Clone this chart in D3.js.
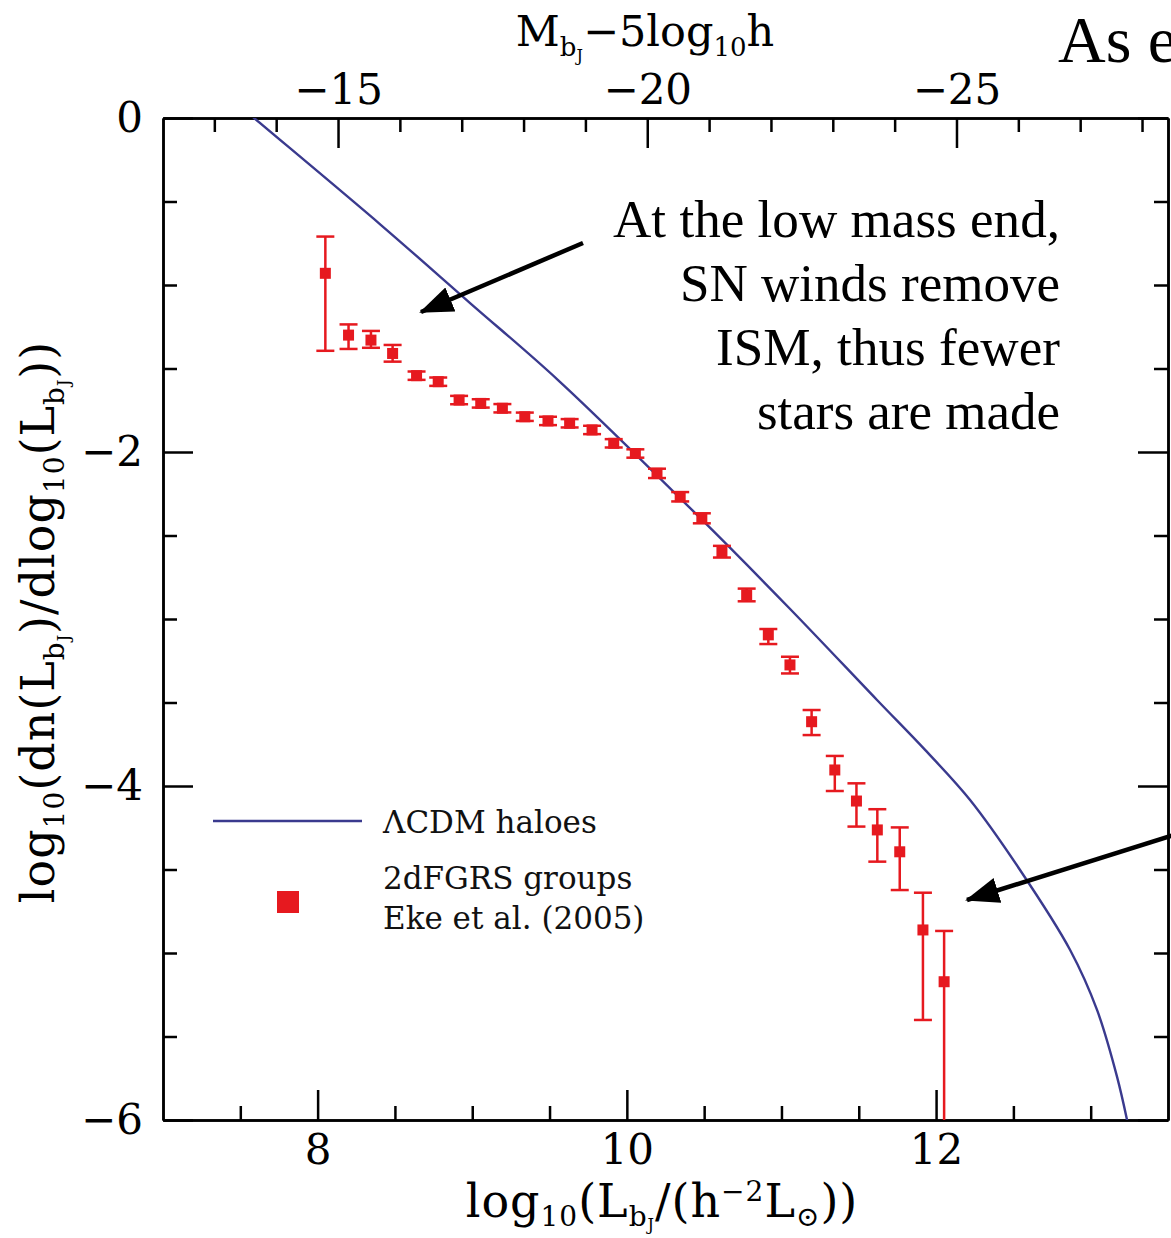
<!DOCTYPE html>
<html>
<head>
<meta charset="utf-8">
<script src="https://cdn.jsdelivr.net/npm/d3@7"></script>
<style>
  body { margin: 0; background: #fff; }
  svg { display: block; }
  .axis path, .axis line { stroke: #000; stroke-width: 2.5; }
  .axis text { font-family: "DejaVu Serif", serif; font-size: 42px; fill: #000; }
  .title { font-family: "DejaVu Serif", serif; font-size: 46px; fill: #000; letter-spacing: 1px; }
  .legend { font-family: "DejaVu Serif", serif; font-size: 31px; fill: #111; }
  .note { font-family: "Liberation Serif", "Times New Roman", serif; font-size: 53px; fill: #000; }
</style>
</head>
<body>
<svg class="lf" width="1171" height="1238"></svg>
<script>
// 2dFGRS groups (Eke et al. 2005): log10 L, log10 phi, upper / lower error
const groupLogL = [8.05, 8.20, 8.345, 8.485, 8.64, 8.78, 8.915, 9.055, 9.195, 9.34, 9.49, 9.63,
                   9.775, 9.915, 10.055, 10.195, 10.345, 10.485, 10.615, 10.775, 10.915, 11.055,
                   11.195, 11.345, 11.485, 11.62, 11.765, 11.915, 12.052];
const groupPhi = [-0.93, -1.30, -1.33, -1.41, -1.543, -1.579, -1.689, -1.709, -1.738, -1.789, -1.814, -1.828,
                  -1.868, -1.948, -2.009, -2.128, -2.268, -2.397, -2.597, -2.856, -3.095, -3.275,
                  -3.615, -3.904, -4.09, -4.263, -4.394, -4.862, -5.172];
const groupHi = [-0.71, -1.236, -1.275, -1.359, -1.518, -1.554, -1.664, -1.684, -1.713, -1.764, -1.789, -1.803,
                 -1.843, -1.923, -1.984, -2.10, -2.24, -2.367, -2.562, -2.818, -3.06, -3.226,
                 -3.545, -3.82, -3.984, -4.139, -4.248, -4.639, -4.868];
const groupLo = [-1.394, -1.383, -1.376, -1.459, -1.568, -1.604, -1.714, -1.734, -1.763, -1.814, -1.839, -1.853,
                 -1.893, -1.973, -2.034, -2.156, -2.296, -2.427, -2.632, -2.894, -3.15, -3.326,
                 -3.695, -4.03, -4.243, -4.453, -4.623, -5.401, -7.0];

// LCDM haloes curve
const haloLogL = [7.498, 7.589, 8.41, 8.986, 9.555, 10.474, 11.056, 11.618, 11.929, 12.22, 12.543,
                  12.867, 13.041, 13.171, 13.242];
const haloPhi = [0.072, 0.0, -0.641, -1.108, -1.569, -2.395, -2.94, -3.485, -3.784, -4.084, -4.503,
                 -4.982, -5.341, -5.743, -6.03];

const xMajor = [8, 10, 12];
const yMajor = [0, -2, -4, -6];
const magMajor = [-15, -20, -25];
const magSun = 5.33;

const svg = d3.select("svg.lf");
const margin = {top: 118, right: 3, bottom: 118, left: 163};
const width = +svg.attr("width") - margin.left - margin.right;
const height = +svg.attr("height") - margin.top - margin.bottom;

svg.append("rect").attr("width", 1171).attr("height", 1238).attr("fill", "#fff");

const x = d3.scaleLinear().domain([7, 13.5]).range([0, width]);
const y = d3.scaleLinear().domain([-6, 0]).range([height, 0]);
const mag = d3.scaleLinear().domain([magSun - 2.5 * 7, magSun - 2.5 * 13.5]).range([0, width]);

const g = svg.append("g").attr("transform", `translate(${margin.left}, ${margin.top})`);

g.append("defs").append("clipPath").attr("id", "plotclip")
  .append("rect").attr("width", width).attr("height", height);

const xMinor = d3.range(7.5, 13.5, 0.5).filter(v => v % 2 !== 0);
const yMinor = d3.range(-5.5, 0, 0.5).filter(v => v % 2 !== 0);
const magMinor = d3.range(-13, -29, -1).filter(v => v % 5 !== 0);

// bottom
g.append("g").attr("class", "axis").attr("transform", `translate(0, ${height})`)
  .call(d3.axisBottom(x).tickValues(xMinor).tickSize(-14).tickSizeOuter(0).tickFormat(""));
g.append("g").attr("class", "axis").attr("transform", `translate(0, ${height})`)
  .call(d3.axisBottom(x).tickValues(xMajor).tickSize(-30).tickSizeOuter(0).tickPadding(14)
        .tickFormat(d3.format("d")));
// left
g.append("g").attr("class", "axis")
  .call(d3.axisLeft(y).tickValues(yMinor).tickSize(-14).tickSizeOuter(0).tickFormat(""));
g.append("g").attr("class", "axis")
  .call(d3.axisLeft(y).tickValues(yMajor).tickSize(-30).tickSizeOuter(0).tickPadding(20)
        .tickFormat(d3.format("d")));
// right
g.append("g").attr("class", "axis").attr("transform", `translate(${width}, 0)`)
  .call(d3.axisRight(y).tickValues(yMinor).tickSize(-14).tickSizeOuter(0).tickFormat(""));
g.append("g").attr("class", "axis").attr("transform", `translate(${width}, 0)`)
  .call(d3.axisRight(y).tickValues(yMajor).tickSize(-30).tickSizeOuter(0).tickFormat(""));
// top (magnitudes)
g.append("g").attr("class", "axis")
  .call(d3.axisTop(mag).tickValues(magMinor).tickSize(-14).tickSizeOuter(0).tickFormat(""));
g.append("g").attr("class", "axis")
  .call(d3.axisTop(mag).tickValues(magMajor).tickSize(-30).tickSizeOuter(0).tickPadding(14)
        .tickFormat(d3.format("d")));

// halo curve
const haloData = haloLogL.map((v, i) => ({x: v, y: haloPhi[i]}));
g.append("path")
  .datum(haloData)
  .attr("clip-path", "url(#plotclip)")
  .attr("fill", "none")
  .attr("stroke", "#3a3a8e")
  .attr("stroke-width", 2.4)
  .attr("d", d3.line().x(d => x(d.x)).y(d => y(d.y)).curve(d3.curveCatmullRom.alpha(0.5)));

// groups with error bars
const groups = groupLogL.map((v, i) => ({x: v, y: groupPhi[i], hi: groupHi[i], lo: groupLo[i]}));
const red = "#e6191f";
const pts = g.append("g").attr("clip-path", "url(#plotclip)")
  .selectAll(".pt").data(groups).enter().append("g").attr("class", "pt");
pts.append("line")
  .attr("x1", d => x(d.x)).attr("x2", d => x(d.x))
  .attr("y1", d => y(d.hi)).attr("y2", d => y(d.lo))
  .attr("stroke", red).attr("stroke-width", 2.5);
pts.append("line")
  .attr("x1", d => x(d.x) - 9).attr("x2", d => x(d.x) + 9)
  .attr("y1", d => y(d.hi)).attr("y2", d => y(d.hi))
  .attr("stroke", red).attr("stroke-width", 2.5);
pts.append("line")
  .attr("x1", d => x(d.x) - 9).attr("x2", d => x(d.x) + 9)
  .attr("y1", d => y(d.lo)).attr("y2", d => y(d.lo))
  .attr("stroke", red).attr("stroke-width", 2.5);
pts.append("rect")
  .attr("x", d => x(d.x) - 5.5).attr("y", d => y(d.y) - 5.5)
  .attr("width", 11).attr("height", 11)
  .attr("fill", red);

// legend
const leg = g.append("g").attr("transform", "translate(50, 703)");
leg.append("line").attr("x1", 0).attr("x2", 149).attr("y1", 0).attr("y2", 0)
  .attr("stroke", "#3a3a8e").attr("stroke-width", 2.4);
leg.append("text").attr("class", "legend").attr("x", 170).attr("y", 12).text("ΛCDM  haloes");
leg.append("rect").attr("x", 64).attr("y", 70).attr("width", 22).attr("height", 22).attr("fill", red);
leg.append("text").attr("class", "legend").attr("x", 170).attr("y", 68).text("2dFGRS  groups");
leg.append("text").attr("class", "legend").attr("x", 170).attr("y", 108).text("Eke  et al. (2005)");

// axis titles
const bt = svg.append("text").attr("class", "title").attr("x", 662).attr("y", 1217).attr("text-anchor", "middle");
bt.append("tspan").text("log");
bt.append("tspan").attr("dy", 9).attr("font-size", 28).text("10");
bt.append("tspan").attr("dy", -9).text("(L");
bt.append("tspan").attr("dy", 9).attr("font-size", 28).text("b");
bt.append("tspan").attr("dy", 4).attr("font-size", 16).text("J");
bt.append("tspan").attr("dy", -13).text("/(h");
bt.append("tspan").attr("dy", -16).attr("font-size", 28).text("−2");
bt.append("tspan").attr("dy", 16).text("L");
bt.append("tspan").attr("dy", 9).attr("font-size", 28).text("⊙");
bt.append("tspan").attr("dy", -9).text("))");

const lt = svg.append("text").attr("class", "title").attr("text-anchor", "middle")
  .attr("transform", "translate(54, 622) rotate(-90)");
lt.append("tspan").text("log");
lt.append("tspan").attr("dy", 10).attr("font-size", 28).text("10");
lt.append("tspan").attr("dy", -10).text("(dn(L");
lt.append("tspan").attr("dy", 10).attr("font-size", 28).text("b");
lt.append("tspan").attr("dy", 5).attr("font-size", 16).text("J");
lt.append("tspan").attr("dy", -15).text(")/dlog");
lt.append("tspan").attr("dy", 10).attr("font-size", 28).text("10");
lt.append("tspan").attr("dy", -10).text("(L");
lt.append("tspan").attr("dy", 10).attr("font-size", 28).text("b");
lt.append("tspan").attr("dy", 5).attr("font-size", 16).text("J");
lt.append("tspan").attr("dy", -15).text("))");

const tt = svg.append("text").attr("class", "title").attr("x", 645).attr("y", 46)
  .attr("text-anchor", "middle").style("font-size", "43px").style("letter-spacing", "0px");
tt.append("tspan").text("M");
tt.append("tspan").attr("dy", 10).attr("font-size", 26).text("b");
tt.append("tspan").attr("dy", 5).attr("font-size", 16).text("J");
tt.append("tspan").attr("dy", -15).text("−5log");
tt.append("tspan").attr("dy", 10).attr("font-size", 26).text("10");
tt.append("tspan").attr("dy", -10).text("h");

// annotations
const noteLines = ["At the low mass end,", "SN winds remove", "ISM, thus fewer", "stars are made"];
const noteWidths = [447, 380, 344, 303];
svg.selectAll(".note").data(noteLines).enter().append("text")
  .attr("class", "note")
  .attr("x", 1060).attr("y", (d, i) => 237 + i * 64)
  .attr("text-anchor", "end")
  .attr("textLength", (d, i) => noteWidths[i])
  .attr("lengthAdjust", "spacingAndGlyphs")
  .text(d => d);
svg.append("text").attr("class", "note").attr("x", 1058).attr("y", 62)
  .style("font-size", "66px").text("As e");

// arrows
const defs = svg.append("defs");
defs.append("marker").attr("id", "head")
  .attr("markerUnits", "userSpaceOnUse")
  .attr("viewBox", "0 0 34 26").attr("refX", 32).attr("refY", 13)
  .attr("markerWidth", 34).attr("markerHeight", 26).attr("orient", "auto")
  .append("path").attr("d", "M0,0 L34,13 L0,26 Z").attr("fill", "#000");
const arrows = [[583, 243, 421, 312], [1180, 833, 967, 900]];
svg.selectAll(".arrow").data(arrows).enter().append("line")
  .attr("class", "arrow")
  .attr("x1", d => d[0]).attr("y1", d => d[1]).attr("x2", d => d[2]).attr("y2", d => d[3])
  .attr("stroke", "#000").attr("stroke-width", 4.5)
  .attr("marker-end", "url(#head)");
</script>
</body>
</html>
